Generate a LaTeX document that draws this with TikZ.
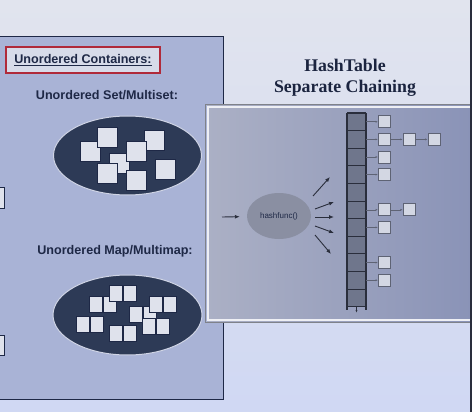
\documentclass[tikz,border=0pt]{standalone}
\usepackage{fontspec}
\setmainfont{Liberation Serif}
\setsansfont{Liberation Sans}
\usetikzlibrary{shapes.geometric,positioning,arrows.meta}

\definecolor{slidetop}{HTML}{E1E4EE}
\definecolor{slidebot}{HTML}{D0D8F3}
\definecolor{panelL}{HTML}{A9B3D6}
\definecolor{panelRl}{HTML}{ABB0C5}
\definecolor{panelRr}{HTML}{8A93B7}
\definecolor{navy}{HTML}{1E2846}
\definecolor{blob}{HTML}{2D3A56}
\definecolor{paper}{HTML}{DFE2EC}
\definecolor{hashgray}{HTML}{8A8FA2}
\definecolor{slot}{HTML}{6F768C}
\definecolor{rim}{HTML}{2A2E3C}
\definecolor{boxred}{HTML}{B02A3A}
\definecolor{linkfill}{HTML}{D3D7E3}
\definecolor{linkrim}{HTML}{5E6374}

\begin{document}
\begin{tikzpicture}[x=1pt,y=-1pt,
		sq/.style={draw=navy, line width=0.8pt, fill=paper, minimum width=20pt, minimum height=20pt, inner sep=0pt},
		halfsq/.style={sq, minimum width=13pt, minimum height=16pt},
		cell/.style={draw=rim, line width=0.7pt, fill=slot, minimum width=19pt, minimum height=17.6pt, inner sep=0pt, outer sep=0pt},
		link/.style={draw=linkrim, line width=0.8pt, fill=linkfill, minimum width=12pt, minimum height=12pt, inner sep=0pt},
		lbl/.style={font=\sffamily\bfseries\fontsize{12.6}{14}\selectfont, text=navy},
		ptr/.style={-{Latex[length=5pt,width=4pt]}, line width=0.9pt, draw=rim},
		nxt/.style={-{Latex[length=2.5pt,width=2pt]}, line width=0.6pt, draw=linkrim}]
			\def\W{472}
			\def\H{412}
			\def\gap{12pt}
			\useasboundingbox (0,0) rectangle (\W,\H);
			\clip (0,0) rectangle (\W,\H);
			% slide background
			\shade[top color=slidetop, bottom color=slidebot] (0,0) rectangle (\W,\H);
			% left panel
			\draw[navy, line width=1pt, fill=panelL] (-5,37) rectangle (223,399);
			\draw[navy, line width=0.8pt, fill=paper] (-20,187) rectangle (4,208);
			\draw[navy, line width=0.8pt, fill=paper] (-20,335) rectangle (4,355);
			\node[draw=boxred, line width=1.3pt, fill=paper!85!panelL, minimum width=154pt, minimum height=26pt, inner sep=0pt, lbl] (caption) at (83,60) {\underline{Unordered Containers:}};
			\node[lbl] (setlbl) at (107,95) {Unordered Set/Multiset:};
			\node[ellipse, fill=blob, draw=paper!70!panelL, line width=1pt, minimum width=148pt, minimum height=79pt] (setblob) at (127.5,155.5) {};
			\node[sq] (s1) at (119,163) {};
			\node[sq] (s2) at (90,151) {};
			\node[sq] (s3) at (107.7,137) {};
			\node[sq] (s4) at (154,140) {};
			\node[sq] (s5) at (136.7,151) {};
			\node[sq] (s6) at (107.7,173) {};
			\node[sq] (s7) at (136.7,180) {};
			\node[sq] (s8) at (165,169) {};
			\node[lbl] (maplbl) at (115,251) {Unordered Map/Multimap:};
			\node[ellipse, fill=blob, draw=paper!70!panelL, line width=1pt, minimum width=149pt, minimum height=80pt] (mapblob) at (127.5,315) {};
			\node[halfsq] (pa) at (95.5,304) {};
			\node[halfsq, right=0.5pt of pa] (pa2) {};
			\node[halfsq] (pb) at (115.5,293.5) {};
			\node[halfsq, right=0.5pt of pb] (pb2) {};
			\node[halfsq] (pf) at (135.5,314.5) {};
			\node[halfsq, right=0.5pt of pf] (pf2) {};
			\node[halfsq] (pc) at (155.5,304) {};
			\node[halfsq, right=0.5pt of pc] (pc2) {};
			\node[halfsq] (pg) at (148.5,326) {};
			\node[halfsq, right=0.5pt of pg] (pg2) {};
			\node[halfsq] (pd) at (82.5,324.5) {};
			\node[halfsq, right=0.5pt of pd] (pd2) {};
			\node[halfsq] (pe) at (115.5,333.5) {};
			\node[halfsq, right=0.5pt of pe] (pe2) {};
			% title
			\node[align=center, text=navy!90!black, font=\bfseries\fontsize{17.8}{21}\selectfont] (title) at (345,77.5) {HashTable\\Separate Chaining};
			% right panel
			\shade[left color=panelRl, right color=panelRr] (207,106) rectangle (\W,321);
			\draw[rim!60, line width=0.8pt] (205.5,104.5) rectangle (480,322.5);
			\draw[white!80!panelRl, line width=1.4pt] (208,107) rectangle (480,320);
			\fill[rim] (470,0) rectangle (\W,\H);
			% hash function
			\node[ellipse, fill=hashgray, minimum width=64pt, minimum height=46pt, inner sep=0pt, font=\sffamily\fontsize{8}{9}\selectfont, text=navy] (hash) at (279,216) {hashfunc()};
			\coordinate (in) at (222,217);
			\draw[ptr, shorten >=7pt] (in) -- (hash);
			\coordinate (a1) at (313,196); \coordinate (b1) at (330,177);
			\coordinate (a2) at (315,209); \coordinate (b2) at (334,202);
			\coordinate (a3) at (315,217); \coordinate (b3) at (334,217);
			\coordinate (a4) at (315,226); \coordinate (b4) at (334,233);
			\coordinate (a5) at (315,235); \coordinate (b5) at (331,254);
			\draw[ptr] (a1) -- (b1);
			\draw[ptr] (a2) -- (b2);
			\draw[ptr] (a3) -- (b3);
			\draw[ptr] (a4) -- (b4);
			\draw[ptr] (a5) -- (b5);
			% buckets
			\node[cell] (c1) at (356.5,121.8) {};
			\node[cell, below=0pt of c1] (c2) {};
			\node[cell, below=0pt of c2] (c3) {};
			\node[cell, below=0pt of c3] (c4) {};
			\node[cell, below=0pt of c4] (c5) {};
			\node[cell, below=0pt of c5] (c6) {};
			\node[cell, below=0pt of c6] (c7) {};
			\node[cell, below=0pt of c7] (c8) {};
			\node[cell, below=0pt of c8] (c9) {};
			\node[cell, below=0pt of c9] (c10) {};
			\node[cell, below=0pt of c10] (c11) {};
			\draw[rim, line width=2pt] (c1.north west) -- ++(0,197);
			\draw[rim, line width=2pt] (c1.north east) -- ++(0,197);
			\draw[rim, line width=2pt] (c1.north west) -- (c1.north east);
			\draw[nxt, draw=rim] (c11.south) -- ++(0,6);
			% chains
			\node[link, right=\gap of c1] (n1) {};
			\node[link, right=\gap of c2] (n2a) {};
			\node[link, right=\gap of n2a] (n2b) {};
			\node[link, right=\gap of n2b] (n2c) {};
			\node[link, right=\gap of c3] (n3) {};
			\node[link, right=\gap of c4] (n4) {};
			\node[link, right=\gap of c6] (n6a) {};
			\node[link, right=\gap of n6a] (n6b) {};
			\node[link, right=\gap of c7] (n7) {};
			\node[link, right=\gap of c9] (n9) {};
			\node[link, right=\gap of c10] (n10) {};
			\draw[nxt] (c1) -- (n1);
			\draw[nxt] (c2) -- (n2a);
			\draw[nxt] (n2a) -- (n2b);
			\draw[nxt] (n2b) -- (n2c);
			\draw[nxt] (c3) -- (n3);
			\draw[nxt] (c4) -- (n4);
			\draw[nxt] (c6) -- (n6a);
			\draw[nxt] (n6a) -- (n6b);
			\draw[nxt] (c7) -- (n7);
			\draw[nxt] (c9) -- (n9);
			\draw[nxt] (c10) -- (n10);
		\end{tikzpicture}
\end{document}
